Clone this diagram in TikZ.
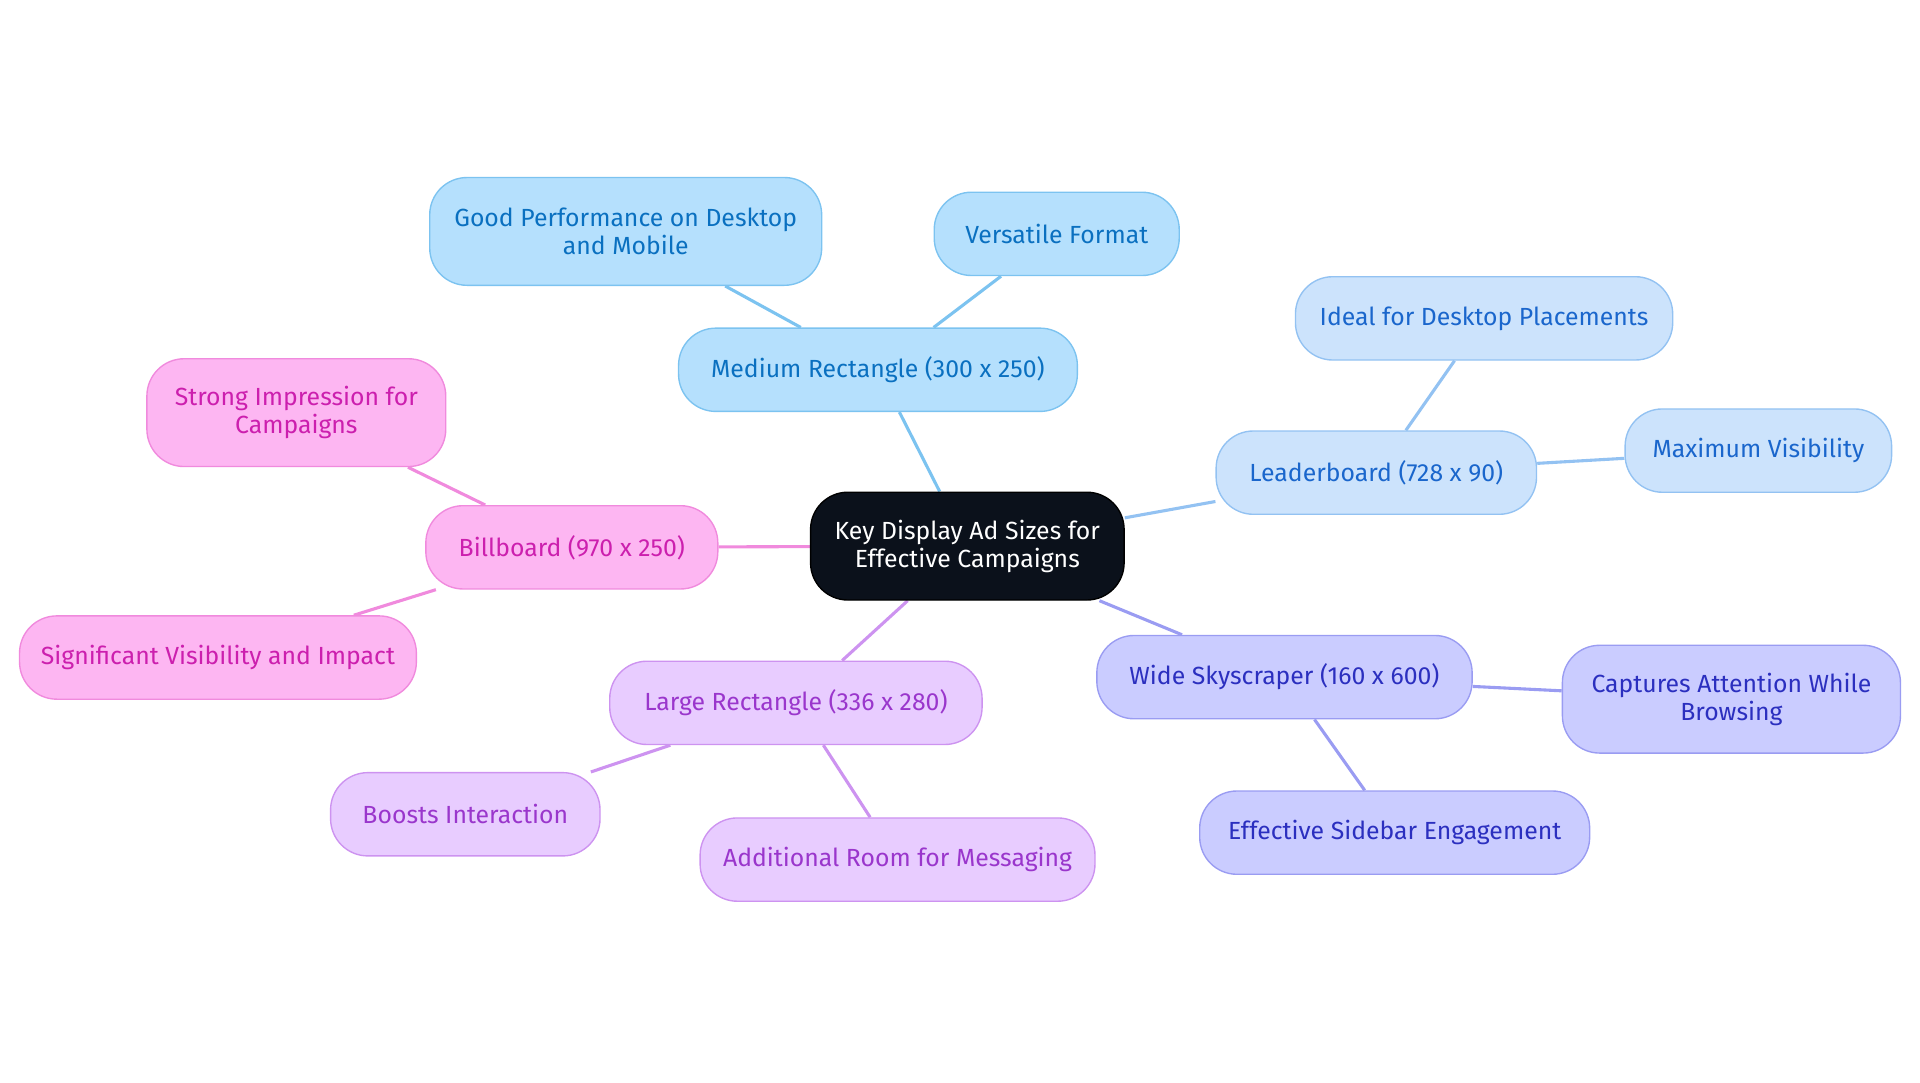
\documentclass[tikz,border=0pt]{standalone}
\usepackage{fontspec}
\setmainfont{Fira Sans}
\usetikzlibrary{positioning,backgrounds}
\definecolor{rootfill}{HTML}{0B111B}
\definecolor{medfill}{HTML}{B5E0FD}\definecolor{medline}{HTML}{7CC3F0}\definecolor{medtext}{HTML}{0A70C0}
\definecolor{leadfill}{HTML}{CCE3FC}\definecolor{leadline}{HTML}{93C2F2}\definecolor{leadtext}{HTML}{1A66CC}
\definecolor{widefill}{HTML}{CACCFF}\definecolor{wideline}{HTML}{9A9CF2}\definecolor{widetext}{HTML}{2B2FBF}
\definecolor{largefill}{HTML}{E8CCFF}\definecolor{largeline}{HTML}{CD93F0}\definecolor{largetext}{HTML}{9A36CC}
\definecolor{billfill}{HTML}{FDB6F2}\definecolor{billline}{HTML}{F08ADD}\definecolor{billtext}{HTML}{CC1FAE}
\tikzset{
  box/.style={rectangle, rounded corners=0.38cm, text centered, align=center, font=\fontsize{7.2}{8.2}\selectfont, inner sep=0pt},
  med/.style={box, fill=medfill, draw=medline, text=medtext},
  lead/.style={box, fill=leadfill, draw=leadline, text=leadtext},
  wide/.style={box, fill=widefill, draw=wideline, text=widetext},
  large/.style={box, fill=largefill, draw=largeline, text=largetext},
  bill/.style={box, fill=billfill, draw=billline, text=billtext},
  link/.style={line width=0.9pt}
}
\begin{document}
\begin{tikzpicture}[x=0.0125cm, y=-0.0125cm]
	\useasboundingbox (0,0) rectangle (1568,884.4);
	
	\node [box, fill=rootfill, draw=black, text=white, minimum width=3.2cm, minimum height=1.1cm] (root) at (790,446) {Key Display Ad Sizes for\\Effective Campaigns};
	
	\node [med, minimum width=4.07cm, minimum height=0.85cm] (medium) at (717,302) {Medium Rectangle (300 x 250)};
	\node [med, minimum width=4cm, minimum height=1.1cm] (goodperf) at (511,189) {Good Performance on Desktop\\and Mobile};
	\node [med, minimum width=2.5cm, minimum height=0.85cm] (versatile) at (863,191) {Versatile Format};
	
	\node [lead, minimum width=3.27cm, minimum height=0.85cm] (leader) at (1124,386) {Leaderboard (728 x 90)};
	\node [lead, minimum width=3.85cm, minimum height=0.85cm] (ideal) at (1212,260) {Ideal for Desktop Placements};
	\node [lead, minimum width=2.72cm, minimum height=0.85cm] (maxvis) at (1436,368) {Maximum Visibility};
	
	\node [wide, minimum width=3.83cm, minimum height=0.85cm] (skyscraper) at (1049,553) {Wide Skyscraper (160 x 600)};
	\node [wide, minimum width=3.45cm, minimum height=1.1cm] (captures) at (1414,571) {Captures Attention While\\Browsing};
	\node [wide, minimum width=3.98cm, minimum height=0.85cm] (sidebar) at (1139,680) {Effective Sidebar Engagement};
	
	\node [large, minimum width=3.8cm, minimum height=0.85cm] (largerect) at (650,574) {Large Rectangle (336 x 280)};
	\node [large, minimum width=2.75cm, minimum height=0.85cm] (boosts) at (380,665) {Boosts Interaction};
	\node [large, minimum width=4.03cm, minimum height=0.85cm] (addroom) at (733,702) {Additional Room for Messaging};
	
	\node [bill, minimum width=2.98cm, minimum height=0.85cm] (billboard) at (467,447) {Billboard (970 x 250)};
	\node [bill, minimum width=3.05cm, minimum height=1.1cm] (strong) at (242,337) {Strong Impression for\\Campaigns};
	\node [bill, minimum width=4.05cm, minimum height=0.85cm] (signif) at (178,537) {Significant Visibility and Impact};
	
	\begin{scope}[on background layer]
		\draw [link, medline] (root) -- (medium);
		\draw [link, medline] (medium) -- (goodperf);
		\draw [link, medline] (medium) -- (versatile);
		\draw [link, leadline] (root) -- (leader);
		\draw [link, leadline] (leader) -- (ideal);
		\draw [link, leadline] (leader) -- (maxvis);
		\draw [link, wideline] (root) -- (skyscraper);
		\draw [link, wideline] (skyscraper) -- (captures);
		\draw [link, wideline] (skyscraper) -- (sidebar);
		\draw [link, largeline] (root) -- (largerect);
		\draw [link, largeline] (largerect) -- (boosts);
		\draw [link, largeline] (largerect) -- (addroom);
		\draw [link, billline] (root) -- (billboard);
		\draw [link, billline] (billboard) -- (strong);
		\draw [link, billline] (billboard) -- (signif);
	\end{scope}
\end{tikzpicture}
\end{document}
